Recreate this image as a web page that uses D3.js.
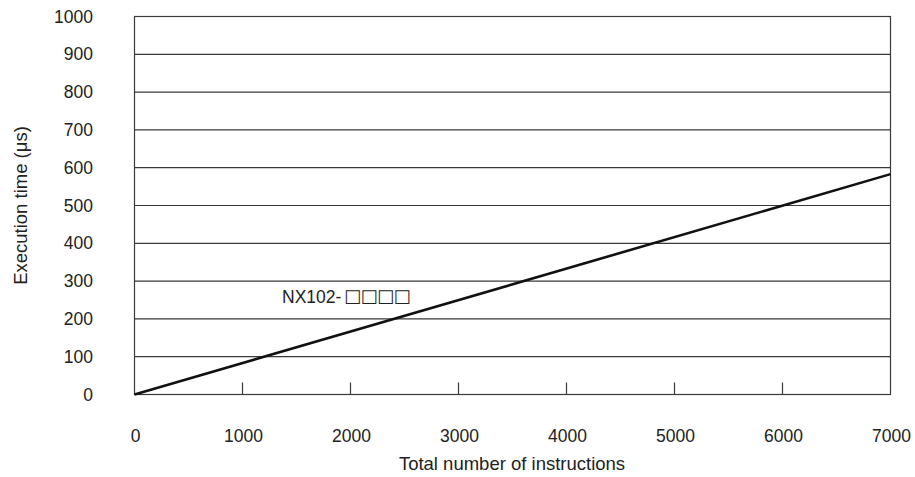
<!DOCTYPE html>
<html><head><meta charset="utf-8">
<script src="https://cdn.jsdelivr.net/npm/d3@7"></script>
<style>body{margin:0;background:#fff;} text{font-family:"Liberation Sans",Arial,sans-serif;}</style>
</head><body><svg id="c" width="915" height="477"></svg>
<script>
const instructions = [0, 7000];
const execTime = [0, 583];
const xTicks = [0,1000,2000,3000,4000,5000,6000,7000];
const yTicks = [0,100,200,300,400,500,600,700,800,900,1000];
const seriesName = "NX102-";
const seriesBoxes = ["\u25A1","\u25A1","\u25A1","\u25A1"];

const svg = d3.select("#c");
const m = {l:134.5, r:890.5, t:16.5, b:394.5};
const x = d3.scaleLinear().domain([0,7000]).range([m.l, m.r]);
const y = d3.scaleLinear().domain([0,1000]).range([m.b, m.t]);
const fs = 17.5, tc = "#222";

// gridlines
svg.append("g").selectAll("line").data(yTicks).join("line")
  .attr("x1", m.l).attr("x2", m.r).attr("y1", d=>y(d)).attr("y2", d=>y(d))
  .attr("stroke", "#3a3a3a").attr("stroke-width", 1.2);
// border
svg.append("rect").attr("x", m.l).attr("y", m.t).attr("width", m.r-m.l).attr("height", m.b-m.t)
  .attr("fill","none").attr("stroke","#3a3a3a").attr("stroke-width",1.2);
// internal ticks
svg.append("g").selectAll("line").data(xTicks.filter(d=>d>0&&d<7000)).join("line")
  .attr("x1", d=>x(d)).attr("x2", d=>x(d)).attr("y1", m.b).attr("y2", m.b-12)
  .attr("stroke","#3a3a3a").attr("stroke-width",1.2);
// x tick labels
svg.append("g").selectAll("text").data(xTicks).join("text")
  .attr("x", d=>x(d)+1).attr("y", 442).attr("text-anchor","middle")
  .attr("font-size",fs).attr("fill",tc).text(d=>d);
// y tick labels
svg.append("g").selectAll("text").data(yTicks).join("text")
  .attr("x", 93).attr("y", d=>y(d)+6).attr("text-anchor","end")
  .attr("font-size",fs).attr("fill",tc).text(d=>d);
// axis titles
svg.append("text").attr("x", 512).attr("y", 470).attr("text-anchor","middle")
  .attr("font-size",18.5).attr("fill",tc).text("Total number of instructions");
svg.append("text").attr("transform",`translate(27,${(m.t+m.b)/2}) rotate(-90)`)
  .attr("text-anchor","middle").attr("font-size",18.5).attr("fill",tc).text("Execution time (\u03BCs)");
// line
const pts = instructions.map((d,i)=>[d, execTime[i]]);
svg.append("path").datum(pts)
  .attr("d", d3.line().x(d=>x(d[0])).y(d=>y(d[1])))
  .attr("fill","none").attr("stroke","#111").attr("stroke-width",2.6);
// label
const lab = svg.append("text").attr("x", 282).attr("y", 303)
  .attr("font-size",17.5).attr("fill",tc);
lab.append("tspan").text(seriesName);
seriesBoxes.forEach((b,i)=>{
  lab.append("tspan").attr("x", 344 + i*16.5).attr("y", 302).attr("font-family","DejaVu Sans")
    .attr("font-size",18).attr("fill","#222").text(b);
});
</script></body></html>
